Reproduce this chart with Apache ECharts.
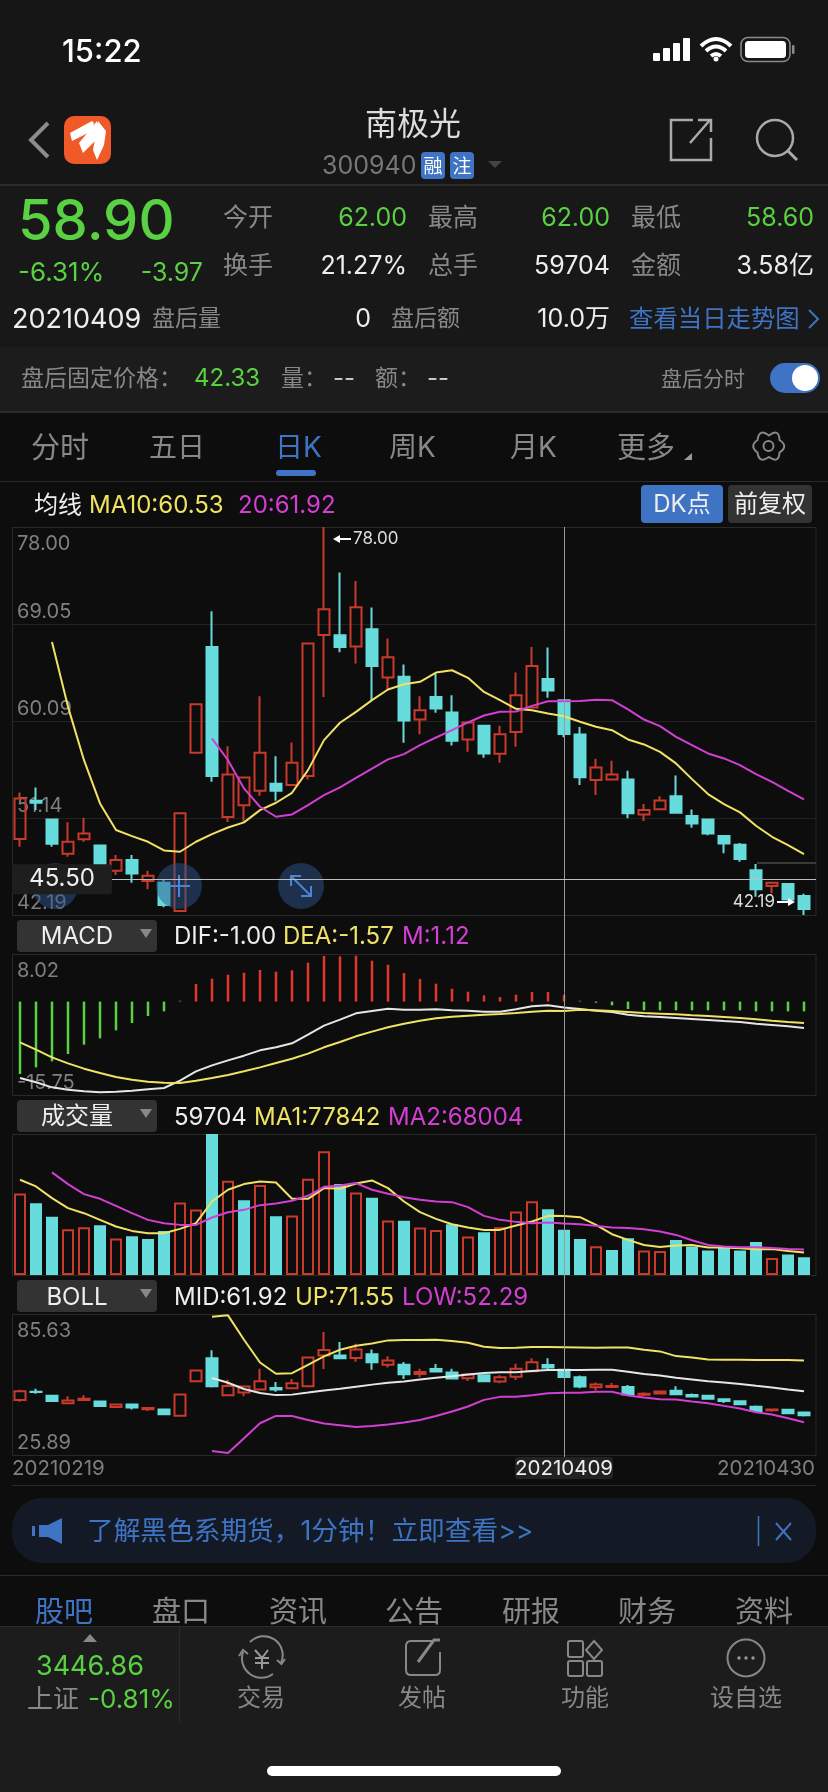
<!DOCTYPE html>
<html>
<head>
<meta charset="utf-8">
<title>南极光 日K</title>
<script src="https://cdn.jsdelivr.net/npm/echarts@6/dist/echarts.min.js"></script>
<style>
html,body{margin:0;padding:0;background:#0d0d0d;}
#page{position:relative;width:828px;height:1792px;overflow:hidden;font-family:Inter,"Noto Sans CJK SC",sans-serif;}
#chart{position:absolute;left:0;top:0;width:828px;height:1792px;}
.band{position:absolute;left:0;width:828px;}
.t{position:absolute;white-space:nowrap;line-height:1;}
svg{position:absolute;left:0;top:0;}
</style>
</head>
<body>
<div id="page">
<div class="band" style="top:0;height:184px;background:#161616"></div>
<div class="band" style="top:184px;height:2px;background:#2b2b2b"></div>
<div class="band" style="top:186px;height:161px;background:#181818"></div>
<div class="band" style="top:347px;height:64px;background:#1c1c1c"></div>
<div class="band" style="top:411px;height:2px;background:#2b2b2b"></div>
<div class="band" style="top:481px;height:1px;background:#2b2b2b"></div>
<div id="chart"></div>
<div class="band" style="top:1485px;left:12px;width:804px;height:1px;background:#2b2b2b"></div>
<div class="band" style="top:1498px;left:12px;width:804px;height:65px;border-radius:30px;background:#131a26"></div>
<div class="band" style="top:1575px;height:1px;background:#2b2b2b"></div>
<div class="band" style="top:1626px;height:166px;background:#1c1c1c;border-top:1px solid #2b2b2b;box-sizing:border-box"></div>
<div class="band" style="top:1626px;left:179px;width:1px;height:97px;background:#2b2b2b"></div>
<div class="band" style="top:1766px;left:267px;width:294px;height:10px;border-radius:5px;background:#fff"></div>
<div class="band" style="top:116px;left:64px;width:47px;height:48px;border-radius:10px;background:#ef5a28"></div>
<div class="band" style="top:152px;left:421px;width:24px;height:27px;border-radius:4px;background:#3f74c4"></div>
<div class="band" style="top:152px;left:450px;width:24px;height:27px;border-radius:4px;background:#3f74c4"></div>
<div class="band" style="top:363px;left:770px;width:50px;height:30px;border-radius:15px;background:#3f74c4"></div>
<div class="band" style="top:365px;left:792px;width:26px;height:26px;border-radius:13px;background:#fff"></div>
<div class="band" style="top:470px;left:276px;width:40px;height:6px;border-radius:3px;background:#3f74c4"></div>
<div class="band" style="top:485px;left:641px;width:82px;height:38px;border-radius:4px;background:#3f74c4"></div>
<div class="band" style="top:485px;left:728px;width:84px;height:38px;border-radius:4px;background:#333"></div>
<div class="band" style="top:920px;left:17px;width:140px;height:32px;border-radius:4px;background:#333"></div>
<div class="band" style="top:1100px;left:17px;width:140px;height:32px;border-radius:4px;background:#333"></div>
<div class="band" style="top:1280px;left:17px;width:140px;height:32px;border-radius:4px;background:#333"></div>
<svg width="828" height="1792" fill="none">
  <!-- status bar -->
  <rect x="653" y="53" width="7" height="8" rx="1" fill="#fff"/><rect x="663" y="48" width="7" height="13" rx="1" fill="#fff"/>
  <rect x="673" y="43" width="7" height="18" rx="1" fill="#fff"/><rect x="683" y="38" width="7" height="23" rx="1" fill="#fff"/>
  <path d="M701 46 Q716 32 731 46 M706 51 Q716 42 726 51 M711 56 Q716 52 721 56" stroke="#fff" stroke-width="4"/>
  <circle cx="716" cy="59" r="2.5" fill="#fff"/>
  <rect x="741" y="37.5" width="49" height="24" rx="7" stroke="#8a8a8a" stroke-width="1.5"/>
  <rect x="745" y="41" width="41" height="17" rx="3.5" fill="#fff"/>
  <rect x="792" y="45" width="2.5" height="9" rx="1" fill="#8a8a8a"/>
  <!-- nav -->
  <path d="M48 123 L31 140 L48 157" stroke="#8c8c8c" stroke-width="4"/>
  <path d="M70 133 L92 121 L94 123 L92 131 L72 141 Z" fill="#fff"/>
  <path d="M79 143 L97 121 L98 126 L95 141 L83 153 Z" fill="#fff"/>
  <path d="M93 150 L98 121 L106 131 L104 145 L97 160 Z" fill="#fff"/>
  <path d="M488 161 L502 161 L495 168 Z" fill="#444"/>
  <path d="M693 120 L671 120 L671 160 L711 160 L711 138 M690 143 L710 120 M698 120 L711 120 L711 132" stroke="#aaa" stroke-width="2.5"/>
  <circle cx="775" cy="138" r="18" stroke="#aaa" stroke-width="2.5"/><path d="M788 151 L797 160" stroke="#aaa" stroke-width="3"/>
  <path d="M809 310 L818 319 L809 328" stroke="#3f74c4" stroke-width="2"/>
  <path d="M684 460 L692 453 L692 460 Z" fill="#999"/>
  <circle cx="768.5" cy="446" r="5" stroke="#888" stroke-width="2"/>
  <path d="M757.5 440 Q759 428 769 435.5 Q779 428 779.5 440 Q789 446 779.5 452.5 Q779 464 769 457 Q759 464 757.5 452.5 Q749 446 757.5 440 Z" stroke="#888" stroke-width="2"/>
  <path d="M140 929 L152 929 L146 938 Z M140 1109 L152 1109 L146 1118 Z M140 1289 L152 1289 L146 1298 Z" fill="#888"/>
  <!-- banner -->
  <path d="M39 1525 L48 1525 L62 1518 L62 1544 L48 1537 L39 1537 Z M32 1526 L35 1526 L35 1536 L32 1536 Z" fill="#3f74c4"/>
  <path d="M758.5 1516 L758.5 1546" stroke="#3f74c4" stroke-width="1.5"/>
  <path d="M776 1523 L791 1540 M791 1523 L776 1540" stroke="#3f74c4" stroke-width="2"/>
  <!-- bottom bar -->
  <path d="M83 1642 L97 1642 L90 1634 Z" fill="#888"/>
  <path d="M250 1642 A19 19 0 0 1 281 1663 M243 1652 A19.5 19.5 0 0 0 273 1674" stroke="#888" stroke-width="2"/>
  <path d="M277 1660 L281.5 1664 L285 1659 M239 1656 L243 1650 L248 1654" stroke="#888" stroke-width="2"/>
  <path d="M255 1650 L262 1658 L268 1650 M262 1658 L262 1669 M255 1658 L269 1658 M255 1663 L269 1663" stroke="#999" stroke-width="2"/>
  <path d="M432 1641 L411 1641 Q406 1641 406 1646 L406 1670 Q406 1675 411 1675 L435 1675 Q440 1675 440 1670 L440 1652" stroke="#888" stroke-width="2"/>
  <path d="M418 1662 L434 1640 L440 1640" stroke="#888" stroke-width="3"/>
  <rect x="568" y="1641" width="15" height="16" rx="2" stroke="#888" stroke-width="2"/>
  <path d="M594 1641 L602 1650 L594 1659 L586 1650 Z" stroke="#888" stroke-width="2"/>
  <rect x="568" y="1661" width="15" height="15" rx="2" stroke="#888" stroke-width="2"/>
  <rect x="587" y="1661" width="15" height="15" rx="2" stroke="#888" stroke-width="2"/>
  <circle cx="746" cy="1658" r="18.5" stroke="#888" stroke-width="2"/>
  <circle cx="739" cy="1658" r="1.7" fill="#999"/><circle cx="746" cy="1658" r="1.7" fill="#999"/><circle cx="753" cy="1658" r="1.7" fill="#999"/>
</svg>
</div>
<script>
// 数据区 (读图估算)
var dates = ['20210219','20210222','20210223','20210224','20210225','20210226','20210301','20210302','20210303','20210304',
  '20210305','20210308','20210309','20210310','20210311','20210312','20210315','20210316','20210317','20210318',
  '20210319','20210322','20210323','20210324','20210325','20210326','20210329','20210330','20210331','20210401',
  '20210402','20210406','20210407','20210408','20210409','20210412','20210413','20210414','20210415','20210416',
  '20210419','20210420','20210421','20210422','20210423','20210426','20210427','20210428','20210429','20210430']
var opens = [49.20,52.73,51.01,47.85,49.17,48.61,46.28,47.26,45.32,45.17,42.56,57.16,66.93,51.23,52.33,53.65,54.30,54.18,55.01,68.04,
  68.01,66.96,68.56,64.10,64.17,60.23,62.32,60.88,58.39,59.65,57.07,59.07,61.34,63.98,62.00,58.85,54.64,54.70,54.70,51.47,
  51.96,53.16,51.32,51.01,49.47,48.68,46.31,44.87,45.05,43.94]
var closes = [52.95,52.55,48.77,48.95,49.72,46.65,47.26,46.03,45.82,43.11,51.57,61.65,55.01,55.16,54.88,57.16,53.65,56.24,67.24,70.41,
  66.93,70.59,65.18,65.98,60.14,61.09,61.25,58.27,59.96,57.10,58.88,62.48,65.18,62.91,58.90,54.91,55.81,55.16,51.57,51.87,
  52.76,51.63,50.64,49.72,48.80,47.35,44.56,45.17,43.63,42.74]
var lows = [48.49,51.87,48.49,47.57,48.95,46.49,45.88,45.17,44.56,42.90,42.56,57.16,54.49,50.77,50.77,53.19,52.73,54.09,54.70,62.32,
  66.44,65.40,62.02,62.94,58.08,58.88,60.85,57.84,57.25,56.70,56.24,57.71,61.34,62.23,58.60,54.18,53.26,54.70,51.13,50.86,
  51.96,51.57,50.24,49.54,47.88,47.11,43.88,44.19,43.51,42.19]
var highs = [53.50,53.96,51.01,50.74,51.17,48.61,47.72,47.72,46.28,45.48,51.57,61.65,70.22,57.77,54.88,62.39,56.85,58.11,67.24,78.00,
  73.79,73.02,70.56,67.70,65.30,62.39,64.47,62.48,59.96,59.65,59.65,64.57,66.93,66.87,62.00,59.55,56.60,56.42,55.50,52.43,
  53.16,55.07,51.93,51.10,49.57,48.83,46.89,45.17,45.11,44.16]
var ma10 = [null,null,67.39,61.40,56.48,52.49,50.03,49.47,48.95,48.15,48.03,48.95,49.66,50.27,50.74,51.87,52.55,53.47,55.56,58.33,
  59.93,60.94,62.02,63.00,63.49,63.71,64.57,64.78,64.08,62.78,62.02,61.22,61.09,60.79,60.53,60.02,59.56,59.25,58.39,57.93,
  57.25,56.18,54.73,53.35,52.43,51.66,50.43,49.41,48.64,47.81]
var ma20 = [null,null,null,null,null,null,null,null,null,null,null,null,58.48,56.48,53.87,52.18,51.26,51.47,52.33,53.25,
  53.96,54.85,55.71,56.55,57.04,57.87,58.57,59.25,59.96,60.60,60.94,60.97,61.49,61.92,61.92,61.95,62.05,62.02,61.16,60.23,
  59.62,58.63,57.87,57.10,56.64,56.02,55.19,54.48,53.65,52.86]
var macdHist = [-12.21,-11.09,-10.07,-8.84,-7.27,-6.20,-4.85,-3.61,-2.43,-1.65,0.15,2.96,3.86,4.53,4.87,5.32,5.04,5.27,6.56,7.68,
  7.63,7.74,6.89,6.22,4.82,3.80,3.02,2.17,1.67,1.05,0.77,1.16,1.61,1.61,1.12,0.15,-0.19,-0.63,-1.25,-1.48,
  -1.48,-1.48,-1.48,-1.48,-1.48,-1.48,-1.65,-1.65,-1.65,-1.65]
var dif = [-12.88,-13.61,-14.46,-14.85,-15.13,-15.30,-15.19,-15.02,-14.79,-14.57,-13.33,-11.76,-10.75,-9.91,-9.12,-8.22,-7.71,-7.04,-5.58,-4.06,
  -3.05,-1.98,-1.59,-1.20,-1.37,-1.37,-1.31,-1.48,-1.53,-1.70,-1.70,-1.31,-0.80,-0.63,-1.00,-1.25,-1.53,-1.76,-2.21,-2.49,
  -2.60,-2.77,-2.94,-3.11,-3.28,-3.44,-3.73,-3.95,-4.17,-4.46]
var dea = [-6.87,-8.11,-9.40,-10.41,-11.31,-12.04,-12.72,-13.17,-13.50,-13.67,-13.73,-13.33,-12.88,-12.38,-11.76,-11.09,-10.36,-9.63,-8.78,-7.71,
  -6.82,-5.86,-5.07,-4.34,-3.73,-3.22,-2.83,-2.55,-2.38,-2.21,-2.10,-1.93,-1.70,-1.53,-1.57,-1.37,-1.48,-1.59,-1.76,-1.93,
  -2.04,-2.15,-2.32,-2.43,-2.60,-2.77,-2.99,-3.22,-3.44,-3.61]
var volumes = [107600,94770,76700,60390,63030,65680,48050,51130,47610,58190,95650,86400,186000,124300,98740,118600,77580,78460,126950,163100,
  119900,108900,101800,71850,71410,62590,59510,67000,50690,56420,63030,83750,97420,86840,59704,47610,37910,33060,48490,32180,
  31740,46280,37470,32180,37470,32180,43640,22480,26890,23360]
// 成交量柱的红绿 (1红 0青)
var volumeUp = [1,0,0,1,1,0,1,0,0,0,1,1,0,1,0,1,0,1,1,1,0,1,0,1,0,1,1,0,1,0,1,1,1,0,0,0,1,0,0,1,1,0,0,0,0,0,0,1,0,0]
var volMa1 = [125630,116810,101380,88160,81550,72730,63920,58190,55100,55100,60830,68320,96980,112400,119900,123420,122100,100500,100500,114610,
  113730,120780,124750,114610,96980,82870,74050,67000,62590,59510,59510,65240,70530,78020,77842,76260,66120,53780,46280,39670,
  37030,38790,39670,36150,36150,35260,33940,34380,31740,29530]
var volMa2 = [null,null,135330,119900,106670,100500,91250,81550,72730,68320,66120,66120,75820,82870,85960,92130,94330,97860,104470,116370,
  118130,121220,112400,107110,102710,99180,96980,96090,89480,78020,72730,70090,68320,69210,68004,67000,64800,62590,62150,60390,
  57300,52900,45840,39670,37470,36590,36590,35700,34380,33500]
var bollUp = [null,null,null,null,null,null,null,null,null,null,null,null,84.50,85.06,74.73,65.10,60.29,60.57,64.11,67.65,
  70.48,72.18,73.17,74.45,74.59,74.59,74.73,74.16,73.46,71.76,71.19,71.33,71.62,71.62,71.55,71.47,71.33,71.47,71.47,70.48,
  69.78,67.79,67.23,66.38,66.24,66.24,66.10,66.10,66.10,65.95]
var bollLow = [null,null,null,null,null,null,null,null,null,null,null,null,27.59,26.74,32.97,39.34,42.45,42.45,40.75,39.20,
  38.49,37.78,38.21,38.77,39.62,40.75,42.45,44.29,46.42,49.25,50.52,50.52,51.23,52.08,52.29,52.22,52.65,52.65,51.09,50.24,
  49.53,49.39,48.54,47.83,46.70,45.57,44.01,43.02,41.46,39.76]
var priceTicks = [42.19,51.14,60.09,69.05,78.00]
var macdTicks = [-15.75,8.02]
var volumeTicks = [186000]
var bollTicks = [25.89,85.63]
var crossIndex = 34
var crossPrice = 45.50
var highIndex = 19
var lowIndex = 49

var RED = '#c93a2b', CYAN = '#66dcdc', YELLOW = '#f0e264', MAGENTA = '#d23fd2', WHITE = '#e6e6e6', GREEN = '#5ad142', BLUE = '#3f74c4', GRAY = '#888888'
var FONT = 'Inter,"Noto Sans CJK SC",sans-serif'

// 页面上的文字
var page = document.getElementById('page')
function T(x, y, text, size, color, align, weight) {
  var s = document.createElement('span')
  s.className = 't'
  s.textContent = text
  s.style.top = y + 'px'
  s.style.fontSize = size + 'px'
  s.style.color = color
  if (weight) s.style.fontWeight = weight
  if (align === 'r') {
    s.style.right = (828 - x) + 'px'
    s.style.transform = 'translateY(-50%)'
  } else if (align === 'c') {
    s.style.left = x + 'px'
    s.style.transform = 'translate(-50%,-50%)'
  } else {
    s.style.left = x + 'px'
    s.style.transform = 'translateY(-50%)'
  }
  page.appendChild(s)
}
T(62, 50, '15:22', 31, '#fff', 'l', 500)
T(413, 124, '南极光', 32, '#ddd', 'c')
T(322, 165, '300940', 25, '#777', 'l')
T(433, 165.5, '融', 19, '#fff', 'c')
T(462, 165.5, '注', 19, '#fff', 'c')
T(18, 220, '58.90', 56, GREEN, 'l', 500)
T(18, 272, '-6.31%', 26, GREEN, 'l')
T(203, 272, '-3.97', 25, GREEN, 'r')
T(223, 217, '今开', 25, GRAY, 'l')
T(407, 217, '62.00', 25, GREEN, 'r')
T(428, 217, '最高', 25, GRAY, 'l')
T(610, 217, '62.00', 25, GREEN, 'r')
T(631, 217, '最低', 25, GRAY, 'l')
T(814, 217, '58.60', 25, GREEN, 'r')
T(223, 265, '换手', 25, GRAY, 'l')
T(407, 265, '21.27%', 25, '#eee', 'r')
T(428, 265, '总手', 25, GRAY, 'l')
T(610, 265, '59704', 25, '#eee', 'r')
T(631, 265, '金额', 25, GRAY, 'l')
T(814, 265, '3.58亿', 25, '#eee', 'r')
T(12, 318, '20210409', 27, '#eee', 'l')
T(152, 318, '盘后量', 23, GRAY, 'l')
T(371, 318, '0', 25, '#eee', 'r')
T(391, 318, '盘后额', 23, GRAY, 'l')
T(610, 318, '10.0万', 25, '#eee', 'r')
T(629, 318, '查看当日走势图', 24.4, BLUE, 'l')
T(21, 378, '盘后固定价格：', 23, GRAY, 'l')
T(194, 378, '42.33', 24, GREEN, 'l')
T(281, 378, '量：', 23, GRAY, 'l')
T(333, 378, '--', 24, '#ccc', 'l')
T(375, 378, '额：', 23, GRAY, 'l')
T(427, 378, '--', 24, '#ccc', 'l')
T(661, 378, '盘后分时', 21, GRAY, 'l')
T(31, 447, '分时', 29, GRAY, 'l')
T(149, 447, '五日', 28, GRAY, 'l')
T(275, 447, '日K', 28, BLUE, 'l')
T(389, 447, '周K', 28, GRAY, 'l')
T(510, 447, '月K', 28, GRAY, 'l')
T(617, 447, '更多', 29, GRAY, 'l')
T(34, 505, '均线', 24, '#eee', 'l')
T(89, 505, 'MA10:60.53', 24, YELLOW, 'l')
T(238, 505, '20:61.92', 24, MAGENTA, 'l')
T(682, 504, 'DK点', 24, '#eee', 'c')
T(770, 504, '前复权', 24, '#eee', 'c')
T(77, 936, 'MACD', 24, '#eee', 'c')
T(174, 936, 'DIF:-1.00', 24, '#eee', 'l')
T(283, 936, 'DEA:-1.57', 24, YELLOW, 'l')
T(402, 936, 'M:1.12', 24, MAGENTA, 'l')
T(77, 1116, '成交量', 24, '#eee', 'c')
T(174, 1117, '59704', 24, '#eee', 'l')
T(254, 1117, 'MA1:77842', 24, YELLOW, 'l')
T(388, 1117, 'MA2:68004', 24, MAGENTA, 'l')
T(77, 1297, 'BOLL', 24, '#eee', 'c')
T(174, 1297, 'MID:61.92', 24, '#eee', 'l')
T(295, 1297, 'UP:71.55', 24, YELLOW, 'l')
T(402, 1297, 'LOW:52.29', 24, MAGENTA, 'l')
T(87, 1530, '了解黑色系期货，1分钟！立即查看>>', 26.7, BLUE, 'l')
T(35, 1611, '股吧', 29, BLUE, 'l')
T(152, 1611, '盘口', 29, GRAY, 'l')
T(269, 1611, '资讯', 29, GRAY, 'l')
T(385, 1611, '公告', 29, GRAY, 'l')
T(502, 1611, '研报', 29, GRAY, 'l')
T(618, 1611, '财务', 29, GRAY, 'l')
T(735, 1611, '资料', 29, GRAY, 'l')
T(90, 1665, '3446.86', 27, GREEN, 'c')
T(27, 1699, '上证', 26, GRAY, 'l')
T(88, 1699, '-0.81%', 26, GREEN, 'l')
T(261, 1698, '交易', 24, GRAY, 'c')
T(422, 1698, '发帖', 24, GRAY, 'c')
T(585, 1698, '功能', 24, GRAY, 'c')
T(746, 1698, '设自选', 24, GRAY, 'c')

// K线图
var myChart = echarts.init(document.getElementById('chart'))
var candles = []
for (var i = 0; i < dates.length; i++) {
  candles.push([opens[i], closes[i], lows[i], highs[i]])
}
var volumeBars = []
for (var i = 0; i < volumes.length; i++) {
  var c = volumeUp[i] ? RED : CYAN
  volumeBars.push({ value: volumes[i], itemStyle: { color: volumeUp[i] ? 'transparent' : CYAN, borderColor: c, borderWidth: 2 } })
}
var macdBars = []
for (var i = 0; i < macdHist.length; i++) {
  macdBars.push({ value: macdHist[i], itemStyle: { color: macdHist[i] > 0 ? '#e0392b' : GREEN } })
}
var candleStyle = { color: 'transparent', color0: CYAN, borderColor: RED, borderColor0: CYAN, borderWidth: 2 }

function yAxisOf(grid, min, max, ticks, fmt, single) {
  return {
    type: 'value', gridIndex: grid, min: min, max: max,
    axisLine: { show: false }, axisTick: { show: false }, splitLine: { show: false },
    axisLabel: {
      inside: true, margin: 5, customValues: ticks, color: '#7f7f7f', fontSize: 20, fontFamily: FONT,
      formatter: fmt, padding: [7, 0, 2, 0],
      verticalAlign: single ? 'top' : 'bottom', verticalAlignMinLabel: 'bottom', verticalAlignMaxLabel: 'top'
    }
  }
}
function fixed2(v) { return v.toFixed(2) }
function lineOf(name, data, color, xi, yi) {
  return { name: name, type: 'line', data: data, xAxisIndex: xi, yAxisIndex: yi, showSymbol: false,
    lineStyle: { color: color, width: 2 }, itemStyle: { color: color }, z: 5 }
}
var gridTops = [527, 954, 1134, 1314]
var gridHeights = [388, 141, 141, 141]
var option = {
  animation: false,
  backgroundColor: 'transparent',
  grid: gridTops.map(function (t, k) { return { left: 12, width: 800, top: t, height: gridHeights[k] } }),
  xAxis: gridTops.map(function (t, k) { return { type: 'category', gridIndex: k, data: dates, show: false } }),
  yAxis: [
    yAxisOf(0, 42.19, 78, priceTicks, fixed2),
    yAxisOf(1, -15.75, 8.02, macdTicks, fixed2),
    yAxisOf(2, 0, 186000, volumeTicks, function (v) { return (v / 10000).toFixed(1) + '万' }, true),
    yAxisOf(3, 25.89, 85.63, bollTicks, fixed2)
  ],
  series: [
    { name: '日K', type: 'candlestick', data: candles, xAxisIndex: 0, yAxisIndex: 0, barWidth: 12, itemStyle: candleStyle },
    lineOf('MA10', ma10, YELLOW, 0, 0),
    lineOf('MA20', ma20, MAGENTA, 0, 0),
    { name: 'M', type: 'bar', data: macdBars, xAxisIndex: 1, yAxisIndex: 1, barWidth: 2.5 },
    lineOf('DIF', dif, WHITE, 1, 1),
    lineOf('DEA', dea, YELLOW, 1, 1),
    { name: '成交量', type: 'bar', data: volumeBars, xAxisIndex: 2, yAxisIndex: 2, barWidth: 12 },
    lineOf('MA1', volMa1, YELLOW, 2, 2),
    lineOf('MA2', volMa2, MAGENTA, 2, 2),
    { name: 'BOLLK', type: 'candlestick', data: candles, xAxisIndex: 3, yAxisIndex: 3, barWidth: 12, itemStyle: candleStyle },
    lineOf('MID', ma20, WHITE, 3, 3),
    lineOf('UP', bollUp, YELLOW, 3, 3),
    lineOf('LOW', bollLow, MAGENTA, 3, 3)
  ]
}
myChart.setOption(option)

// 十字线、边框和标注
var crossX = myChart.convertToPixel({ xAxisIndex: 0 }, crossIndex)
var crossY = myChart.convertToPixel({ yAxisIndex: 0 }, crossPrice)
var FRAME_L = 12.5, FRAME_R = 816
var g = []
function gLine(x1, y1, x2, y2, color, w, z) {
  g.push({ type: 'line', shape: { x1: x1, y1: y1, x2: x2, y2: y2 }, style: { stroke: color, lineWidth: w || 1 }, z: z || 0, silent: true })
}
function gText(x, y, text, size, color, align, z) {
  g.push({ type: 'text', x: x, y: y, style: { text: text, fontSize: size, fill: color, fontFamily: FONT, align: align || 'left', verticalAlign: 'middle' }, z: z || 20, silent: true })
}
for (var k = 0; k < gridTops.length; k++) {
  g.push({ type: 'rect', shape: { x: FRAME_L, y: gridTops[k] + 0.5, width: FRAME_R - FRAME_L, height: gridHeights[k] }, style: { fill: 'none', stroke: '#292929', lineWidth: 1 }, z: 0, silent: true })
}
for (var k = 1; k < priceTicks.length - 1; k++) {
  var ty = Math.round(myChart.convertToPixel({ yAxisIndex: 0 }, priceTicks[k])) + 0.5
  gLine(FRAME_L, ty, FRAME_R, ty, '#222222', 1, 0)
}
// 右上小灰线
gLine(757, 863, FRAME_R, 863, '#3a3a3a', 2, 1)
// 圆形按钮
var circleXs = [55, 179, 301]
for (var k = 0; k < circleXs.length; k++) {
  g.push({ type: 'circle', shape: { cx: circleXs[k], cy: 886, r: 23 }, style: { fill: 'rgba(45,85,140,0.5)' }, z: 15, silent: true })
}
gLine(168, 886, 190, 886, '#4d83d6', 2, 16)
gLine(179, 875, 179, 897, '#4d83d6', 2, 16)
gLine(292, 877, 310, 895, '#4d83d6', 2, 16)
g.push({ type: 'polyline', shape: { points: [[291, 886], [291, 876], [301, 876]] }, style: { stroke: '#4d83d6', lineWidth: 2, fill: 'none' }, z: 16, silent: true })
g.push({ type: 'polyline', shape: { points: [[311, 886], [311, 896], [301, 896]] }, style: { stroke: '#4d83d6', lineWidth: 2, fill: 'none' }, z: 16, silent: true })
// 十字线
gLine(Math.round(crossX) + 0.5, gridTops[0], Math.round(crossX) + 0.5, 1458, '#9a9a9a', 1, 17)
gLine(112, Math.round(crossY) + 0.5, FRAME_R, Math.round(crossY) + 0.5, '#bdbdbd', 1, 17)
g.push({ type: 'rect', shape: { x: 12, y: crossY - 15, width: 100, height: 30, r: 3 }, style: { fill: '#1e1e1e' }, z: 18, silent: true })
gText(62, crossY, crossPrice.toFixed(2), 24, '#eee', 'center')
// 最高最低标注
var hiX = myChart.convertToPixel({ xAxisIndex: 0 }, highIndex) + 9
var loX = myChart.convertToPixel({ xAxisIndex: 0 }, lowIndex) - 9
gLine(hiX + 2, 539, hiX + 18, 539, '#fff', 2, 19)
g.push({ type: 'polygon', shape: { points: [[hiX, 539], [hiX + 7, 535], [hiX + 7, 543]] }, style: { fill: '#fff' }, z: 19, silent: true })
gText(hiX + 20, 539, highs[highIndex].toFixed(2), 17, '#ddd', 'left')
gLine(loX - 18, 902, loX - 2, 902, '#fff', 2, 19)
g.push({ type: 'polygon', shape: { points: [[loX, 902], [loX - 7, 898], [loX - 7, 906]] }, style: { fill: '#fff' }, z: 19, silent: true })
gText(loX - 20, 902, lows[lowIndex].toFixed(2), 17, '#ddd', 'right')
// 日期
gText(12, 1469, dates[0], 20.5, '#7f7f7f', 'left')
gText(815, 1469, dates[dates.length - 1], 20.5, '#7f7f7f', 'right')
g.push({ type: 'rect', shape: { x: crossX - 49, y: 1457, width: 98, height: 22, r: 3 }, style: { fill: '#222' }, z: 18, silent: true })
gText(crossX, 1469, dates[crossIndex], 20.5, '#eee', 'center')
myChart.setOption({ graphic: { elements: g } })
</script>
</body>
</html>
